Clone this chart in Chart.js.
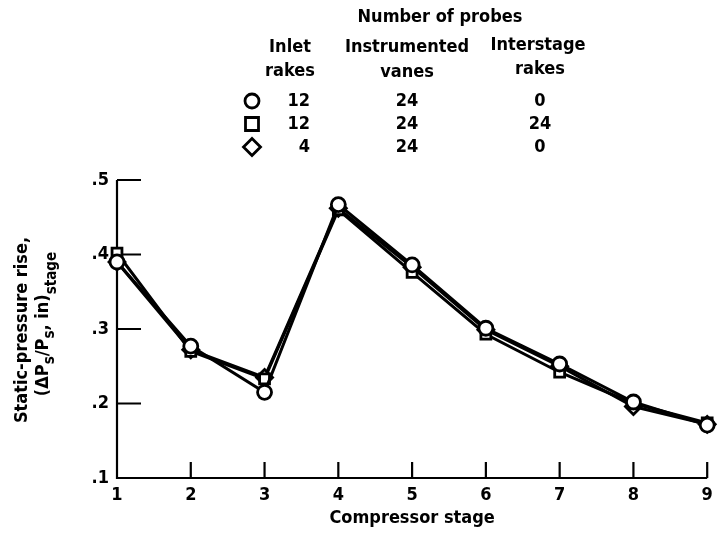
<!DOCTYPE html>
<html lang="en">
<head>
<meta charset="UTF-8" />
<title>Static-pressure rise by compressor stage</title>
<script src="https://cdn.jsdelivr.net/npm/chart.js@4.4.1/dist/chart.umd.min.js"></script>
<style>
  html, body { margin: 0; padding: 0; background: #fff; }
  #wrap { width: 718px; height: 534px; position: relative; }
</style>
</head>
<body>
<div id="wrap"><canvas id="stagePressure"></canvas></div>
<script>
const stages = [1, 2, 3, 4, 5, 6, 7, 8, 9];
const yTicks = [0.1, 0.2, 0.3, 0.4, 0.5];
const yTickLabels = [".1", ".2", ".3", ".4", ".5"];

// static-pressure rise per stage for each probe configuration
const rise12_24_0 = [0.390, 0.277, 0.215, 0.467, 0.386, 0.301, 0.253, 0.202, 0.171];
const rise12_24_24 = [0.402, 0.270, 0.233, 0.460, 0.376, 0.293, 0.242, 0.200, 0.174];
const rise4_24_0 = [0.390, 0.272, 0.235, 0.462, 0.383, 0.299, 0.250, 0.196, 0.172];

const legendRows = [
  { marker: "circle", inlet: "12", vanes: "24", interstage: "0" },
  { marker: "rect", inlet: "12", vanes: "24", interstage: "24" },
  { marker: "rectRot", inlet: "4", vanes: "24", interstage: "0" },
];

const FONT = '"DejaVu Sans Condensed", "Liberation Sans Narrow", "Liberation Sans", sans-serif';
const BIG = "bold 18px " + FONT;
const SMALL = "bold 15px " + FONT;

function series(label, values, style, radius) {
  return {
    label,
    data: stages.map((s, i) => ({ x: s, y: values[i] })),
    borderColor: "#000",
    borderWidth: 3,
    pointStyle: style,
    pointRadius: radius,
    pointBorderWidth: 2.8,
    pointBackgroundColor: "#fff",
    pointBorderColor: "#000",
    tension: 0,
    clip: false,
  };
}

function drawMarker(ctx, style, x, y) {
  ctx.save();
  ctx.lineWidth = 2.8;
  ctx.strokeStyle = "#000";
  ctx.fillStyle = "#fff";
  ctx.beginPath();
  if (style === "circle") {
    ctx.arc(x, y, 7, 0, Math.PI * 2);
  } else if (style === "rect") {
    ctx.rect(x - 6.5, y - 6.5, 13, 13);
  } else {
    ctx.moveTo(x, y - 8.5); ctx.lineTo(x + 8.5, y); ctx.lineTo(x, y + 8.5); ctx.lineTo(x - 8.5, y); ctx.closePath();
  }
  ctx.fill();
  ctx.stroke();
  ctx.restore();
}

// axes, inward ticks, labels and the probe table
const frame = {
  id: "frame",
  beforeDatasetsDraw(chart) {
    const { ctx, scales: { x, y } } = chart;
    const left = x.getPixelForValue(1), right = x.getPixelForValue(9);
    const bottom = y.getPixelForValue(0.1), top = y.getPixelForValue(0.5);
    ctx.save();
    ctx.strokeStyle = "#000";
    ctx.lineWidth = 2.2;
    ctx.beginPath();
    ctx.moveTo(left, top); ctx.lineTo(left, bottom); ctx.lineTo(right, bottom);
    stages.slice(1).forEach(s => {
      const px = x.getPixelForValue(s);
      ctx.moveTo(px, bottom); ctx.lineTo(px, bottom - 16);
    });
    yTicks.slice(1).forEach(v => {
      const py = y.getPixelForValue(v);
      ctx.moveTo(left, py); ctx.lineTo(left + 24, py);
    });
    ctx.stroke();
    ctx.restore();
  },
  afterDatasetsDraw(chart) {
    const { ctx, scales: { x, y } } = chart;
    const left = x.getPixelForValue(1), right = x.getPixelForValue(9);
    const bottom = y.getPixelForValue(0.1);
    ctx.save();
    ctx.fillStyle = "#000";
    ctx.font = BIG;
    ctx.textAlign = "right";
    ctx.textBaseline = "middle";
    yTicks.forEach((v, i) => ctx.fillText(yTickLabels[i], left - 8, y.getPixelForValue(v)));
    ctx.textAlign = "center";
    ctx.textBaseline = "top";
    stages.forEach(s => ctx.fillText(String(s), x.getPixelForValue(s), bottom + 8));
    ctx.fillText("Compressor stage", (left + right) / 2, bottom + 31);

    // rotated y title
    ctx.save();
    ctx.translate(27, 330);
    ctx.rotate(-Math.PI / 2);
    ctx.textBaseline = "alphabetic";
    ctx.textAlign = "center";
    ctx.font = BIG;
    ctx.fillText("Static-pressure rise,", 0, 0);
    ctx.textAlign = "left";
    const parts = [
      ["(\u0394P", 0], ["s", 6], ["/P", 0], ["s", 6], [", in)", 0], ["stage", 8],
    ];
    let w = 0;
    parts.forEach(([t, dy]) => {
      ctx.font = dy ? SMALL : BIG;
      w += ctx.measureText(t).width;
    });
    let cx = -w / 2 + 6;
    parts.forEach(([t, dy]) => {
      ctx.font = dy ? SMALL : BIG;
      ctx.fillText(t, cx, 21 + dy);
      cx += ctx.measureText(t).width;
    });
    ctx.restore();

    // probe table
    ctx.font = BIG;
    ctx.textAlign = "center";
    ctx.textBaseline = "middle";
    ctx.fillText("Number of probes", 440, 17);
    ctx.fillText("Inlet", 290, 47);
    ctx.fillText("rakes", 290, 71);
    ctx.fillText("Instrumented", 407, 47);
    ctx.fillText("vanes", 407, 72);
    ctx.fillText("Interstage", 538, 45);
    ctx.fillText("rakes", 540, 69);
    legendRows.forEach((r, i) => {
      const ry = 101 + i * 23;
      drawMarker(ctx, r.marker, 252, ry);
      ctx.textAlign = "right";
      ctx.fillText(r.inlet, 310, ry);
      ctx.textAlign = "center";
      ctx.fillText(r.vanes, 407, ry);
      ctx.fillText(r.interstage, 540, ry);
    });
    ctx.restore();
  },
};

new Chart(document.getElementById("stagePressure"), {
  type: "line",
  data: {
    datasets: [
      series("12 / 24 / 0", rise12_24_0, "circle", 7),
      series("12 / 24 / 24", rise12_24_24, "rect", 7),
      series("4 / 24 / 0", rise4_24_0, "rectRot", 8),
    ],
  },
  options: {
    responsive: true,
    maintainAspectRatio: false,
    animation: false,
    layout: { padding: { left: 117, right: 7, top: 180, bottom: 56 } },
    plugins: { legend: { display: false }, tooltip: { enabled: false } },
    scales: {
      x: { type: "linear", min: 1, max: 9, display: false },
      y: { type: "linear", min: 0.1, max: 0.5, display: false },
    },
  },
  plugins: [frame],
});
</script>
</body>
</html>
